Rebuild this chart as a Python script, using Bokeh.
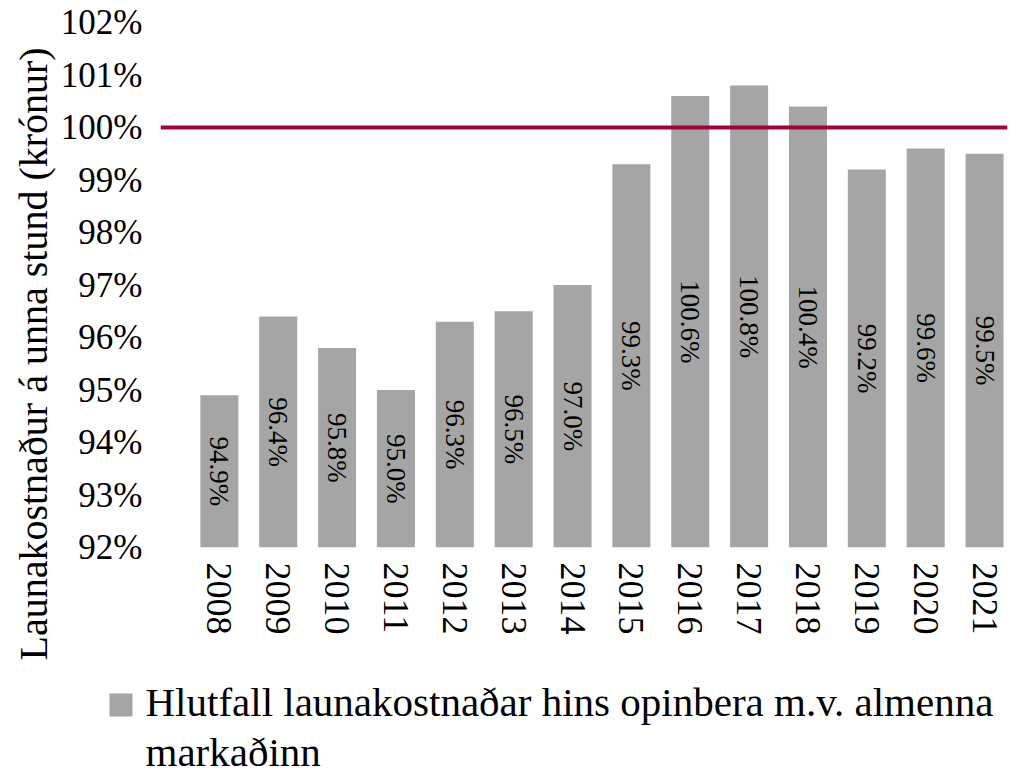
import math
from bokeh.plotting import figure
from bokeh.layouts import column
from bokeh.models import ColumnDataSource, Range1d, FixedTicker, Span, Title
from bokeh.embed import file_html
from bokeh.resources import INLINE
from bokeh.core.properties import value

# ---- data ----
years = ["2008", "2009", "2010", "2011", "2012", "2013", "2014",
         "2015", "2016", "2017", "2018", "2019", "2020", "2021"]
ratios = [94.9, 96.4, 95.8, 95.0, 96.3, 96.5, 97.0,
          99.3, 100.6, 100.8, 100.4, 99.2, 99.6, 99.5]
bar_labels = ["94.9%", "96.4%", "95.8%", "95.0%", "96.3%", "96.5%", "97.0%",
              "99.3%", "100.6%", "100.8%", "100.4%", "99.2%", "99.6%", "99.5%"]
y_ticks = [92, 93, 94, 95, 96, 97, 98, 99, 100, 101, 102]
y_tick_labels = ["92%", "93%", "94%", "95%", "96%", "97%", "98%", "99%", "100%", "101%", "102%"]
reference_level = 100
y_base = 92
y_title = "Launakostnaður á unna stund (krónur)"
legend_lines = ["Hlutfall launakostnaðar hins opinbera m.v. almenna", "markaðinn"]

# ---- style ----
FONT = "Liberation Serif"
BAR = "#A5A5A5"
LINE = "#A0003C"

xs = list(range(len(years)))
src = ColumnDataSource(dict(
    x=xs, top=ratios,
    mid=[(y_base + v) / 2 for v in ratios],
    lab=bar_labels,
))

p = figure(width=1018, height=675, output_backend="svg", toolbar_location=None,
           x_range=Range1d(-1.0, 13.39), y_range=Range1d(y_base, 102),
           min_border_left=160, min_border_right=11, min_border_top=22,
           min_border_bottom=128)
p.frame_align = False
p.outline_line_color = None
p.xgrid.visible = False
p.ygrid.visible = False

bars = p.vbar(x="x", top="top", bottom=y_base, width=0.646, source=src,
              fill_color=BAR, line_color=None)

p.text(x="x", y="mid", text="lab", source=src, angle=-math.pi / 2,
       text_align="center", text_baseline="middle",
       text_font=value(FONT), text_font_size="27px", text_color="black")

p.add_layout(Span(location=reference_level, dimension="width",
                  line_color=LINE, line_width=4))

# x axis
p.xaxis.ticker = FixedTicker(ticks=xs)
p.xaxis.major_label_overrides = {i: y for i, y in enumerate(years)}
p.xaxis.major_label_orientation = -math.pi / 2
p.xaxis.axis_line_color = None
p.xaxis.major_tick_line_color = None
p.xaxis.minor_tick_line_color = None
p.xaxis.major_label_standoff = 9
p.xaxis.major_label_text_font = FONT
p.xaxis.major_label_text_font_size = "36px"
p.xaxis.major_label_text_color = "black"

# y axis
p.yaxis.ticker = FixedTicker(ticks=y_ticks)
p.yaxis.major_label_overrides = {t: l for t, l in zip(y_ticks, y_tick_labels)}
p.yaxis.axis_line_color = None
p.yaxis.major_tick_line_color = None
p.yaxis.minor_tick_line_color = None
p.yaxis.major_label_standoff = 12
p.yaxis.major_label_text_font = FONT
p.yaxis.major_label_text_font_size = "35px"
p.yaxis.major_label_text_color = "black"

p.add_layout(Title(text=y_title, align="left", offset=-113, standoff=4,
                   text_font=FONT, text_font_size="40px",
                   text_font_style="normal", text_color="black"), "left")

# ---- legend strip below the chart (pixel-like coordinates, y downwards) ----
lg = figure(width=1018, height=98, output_backend="svg", toolbar_location=None,
            x_range=Range1d(0, 1018), y_range=Range1d(98, 0),
            min_border_left=0, min_border_right=0, min_border_top=0,
            min_border_bottom=0)
lg.frame_align = False
lg.axis.visible = False
lg.grid.visible = False
lg.outline_line_color = None
lg.rect(x=[120.5], y=[29.5], width=23, height=23, fill_color=BAR, line_color=None)
lg.text(x=[145, 145], y=[3, 53], text=legend_lines, text_align="left",
        text_baseline="top", text_font=value(FONT), text_font_size="41px",
        text_line_height=0.98, text_color="black")

layout = column(p, lg, spacing=0)
open("out.html", "w").write(file_html(layout, INLINE))
